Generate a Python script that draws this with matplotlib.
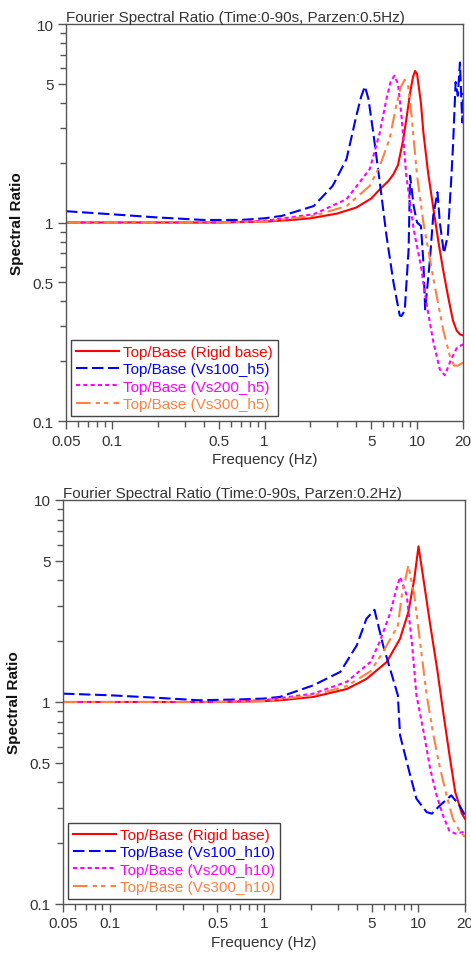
import matplotlib
matplotlib.use('Agg')
import matplotlib.pyplot as plt
from matplotlib.ticker import FixedLocator, NullFormatter

plt.rcParams['font.family'] = ['Liberation Sans', 'DejaVu Sans']

# ---- dane: panel gorny (Parzen 0.5Hz) ----
f_rig_a = [0.05, 0.5, 1.0, 1.5, 2.0, 3.0, 4.0, 5.0, 5.7, 6.5, 7.0, 7.5, 8.1, 8.5, 9.0, 9.4, 9.7,
           10.0, 10.6, 11.0, 11.8, 12.8, 13.8, 14.8, 16.0, 17.2, 18.2, 19.1, 20.0]
r_rig_a = [1.0, 1.0, 1.01, 1.03, 1.05, 1.11, 1.19, 1.32, 1.47, 1.62, 1.75, 1.95, 2.6, 3.3, 4.5, 5.4, 5.8,
           5.6, 4.0, 2.84, 1.79, 1.17, 0.8, 0.58, 0.42, 0.32, 0.285, 0.273, 0.27]

f_100_a = [0.05, 0.1, 0.2, 0.4, 0.7, 1.0, 1.3, 2.1, 2.8, 3.45, 4.0, 4.3, 4.55, 4.8, 5.16, 5.7, 6.3,
           7.0, 7.7, 7.9, 8.3, 8.8, 9.0, 9.5, 10.0, 10.6, 11.0, 11.3, 12.1, 12.76, 13.6, 14.1,
           15.0, 15.9, 16.7, 17.2, 17.9, 18.5, 19.1, 19.5, 19.8, 20.0]
r_100_a = [1.14, 1.1, 1.06, 1.03, 1.03, 1.05, 1.08, 1.21, 1.53, 2.09, 3.45, 4.3, 4.85, 4.2, 2.84, 1.59, 0.86,
           0.5, 0.34, 0.338, 0.36, 0.73, 1.72, 1.21, 1.0, 0.96, 0.63, 0.365, 0.63, 1.08, 1.42, 1.0,
           0.7, 0.86, 1.59, 2.43, 5.1, 4.35, 6.4, 4.19, 3.19, 4.5]

f_200_a = [0.05, 0.5, 1.0, 2.1, 3.45, 4.9, 5.7, 6.3, 6.7, 7.1, 7.5, 7.9, 8.5, 9.5, 10.6, 11.5, 12.8,
           14.1, 15.2, 16.7, 18.3, 20.0]
r_200_a = [1.0, 1.0, 1.02, 1.1, 1.31, 1.86, 2.84, 4.19, 5.1, 5.49, 5.0, 3.45, 1.72, 0.925, 0.604, 0.395, 0.249,
           0.182, 0.17, 0.204, 0.235, 0.243]

f_300_a = [0.05, 0.5, 1.0, 2.1, 3.45, 4.9, 5.7, 6.6, 7.3, 7.8, 8.3, 8.7, 9.2, 10.0, 11.0, 12.8, 14.8,
           16.3, 17.5, 18.5, 20.0]
r_300_a = [1.0, 1.0, 1.01, 1.08, 1.21, 1.53, 1.93, 2.63, 3.87, 4.8, 5.24, 5.0, 3.45, 1.72, 1.0, 0.52, 0.29,
           0.216, 0.19, 0.19, 0.197]

# ---- dane: panel dolny (Parzen 0.2Hz) ----
f_rig_b = [0.05, 0.5, 1.0, 1.27, 2.09, 3.44, 4.6, 6.24, 7.6, 8.6, 9.4, 10.0, 10.78, 11.9, 13.2, 14.5,
           16.0, 17.3, 19.1, 20.0]
r_rig_b = [1.0, 1.0, 1.01, 1.02, 1.06, 1.16, 1.30, 1.58, 2.06, 2.79, 4.08, 5.9, 4.03, 2.42, 1.46, 0.875,
           0.524, 0.358, 0.28, 0.264]

f_100_b = [0.05, 0.1, 0.2, 0.38, 0.7, 1.0, 1.27, 2.09, 3.12, 3.99, 4.6, 5.19, 5.9, 7.35, 7.6, 8.84,
           9.7, 11.3, 12.2, 13.8, 16.3, 18.4, 20.0]
r_100_b = [1.10, 1.08, 1.05, 1.02, 1.03, 1.04, 1.06, 1.21, 1.41, 1.91, 2.58, 2.86, 1.91, 1.08, 0.684, 0.433,
           0.332, 0.285, 0.28, 0.308, 0.345, 0.308, 0.275]

f_200_b = [0.05, 0.5, 1.0, 2.09, 3.44, 4.9, 5.6, 6.6, 7.1, 7.6, 8.4, 9.1, 9.7, 10.9, 11.9, 13.1, 14.4,
           15.8, 17.3, 20.0]
r_200_b = [1.0, 1.0, 1.02, 1.1, 1.26, 1.58, 1.98, 2.79, 3.5, 4.16, 3.37, 1.91, 1.08, 0.684, 0.468, 0.345, 0.275,
           0.231, 0.223, 0.228]

f_300_b = [0.05, 0.5, 1.0, 2.09, 3.44, 4.9, 5.9, 7.35, 7.8, 8.6, 9.4, 10.3, 11.3, 12.5, 13.8, 15.2,
           16.7, 18.4, 20.0]
r_300_b = [1.0, 1.0, 1.01, 1.08, 1.2, 1.42, 1.77, 2.39, 3.37, 4.75, 3.37, 1.91, 1.08, 0.684, 0.468, 0.345,
           0.264, 0.231, 0.214]

tytuly = ['Fourier Spectral Ratio (Time:0-90s, Parzen:0.5Hz)',
          'Fourier Spectral Ratio (Time:0-90s, Parzen:0.2Hz)']
etykiety_a = ['Top/Base (Rigid base)', 'Top/Base (Vs100_h5)', 'Top/Base (Vs200_h5)', 'Top/Base (Vs300_h5)']
etykiety_b = ['Top/Base (Rigid base)', 'Top/Base (Vs100_h10)', 'Top/Base (Vs200_h10)', 'Top/Base (Vs300_h10)']

x_major = [0.05, 0.1, 0.5, 1, 5, 10, 20]
x_major_lab = ['0.05', '0.1', '0.5', '1', '5', '10', '20']
x_minor = [0.06, 0.07, 0.08, 0.09, 0.2, 0.3, 0.4, 0.6, 0.7, 0.8, 0.9, 2, 3, 4, 6, 7, 8, 9]
y_major = [0.1, 0.5, 1, 5, 10]
y_major_lab = ['0.1', '0.5', '1', '5', '10']
y_minor = [0.2, 0.3, 0.4, 0.6, 0.7, 0.8, 0.9, 2, 3, 4, 6, 7, 8, 9]

kolory = ['#ff0000', '#0000ff', '#ff00ff', '#ff8040']
style = ['-', (0, (5.5, 2.2)), (0, (2, 1.5)), (0, (7, 2.5, 2, 2, 2, 2.5))]
tekst = '#333333'

fig = plt.figure(figsize=(4.71, 9.54), dpi=100)
ax1 = fig.add_axes([66/471, 1 - 422/954, 397/471, 397/954])
ax2 = fig.add_axes([63/471, 1 - 905/954, 402/471, 404/954])

panele = [
    (ax1, [(f_rig_a, r_rig_a), (f_100_a, r_100_a), (f_200_a, r_200_a), (f_300_a, r_300_a)], etykiety_a, tytuly[0]),
    (ax2, [(f_rig_b, r_rig_b), (f_100_b, r_100_b), (f_200_b, r_200_b), (f_300_b, r_300_b)], etykiety_b, tytuly[1]),
]

for ax, serie, etyk, tyt in panele:
    for (f, r), kol, st, lab in zip(serie, kolory, style, etyk):
        ax.plot(f, r, color=kol, linestyle=st, linewidth=1.5, label=lab)
    ax.set_xscale('log')
    ax.set_yscale('log')
    ax.set_xlim(0.05, 20)
    ax.set_ylim(0.1, 10)
    ax.xaxis.set_major_locator(FixedLocator(x_major))
    ax.set_xticklabels(x_major_lab)
    ax.xaxis.set_minor_locator(FixedLocator(x_minor))
    ax.xaxis.set_minor_formatter(NullFormatter())
    ax.yaxis.set_major_locator(FixedLocator(y_major))
    ax.set_yticklabels(y_major_lab)
    ax.yaxis.set_minor_locator(FixedLocator(y_minor))
    ax.yaxis.set_minor_formatter(NullFormatter())
    ax.tick_params(which='major', direction='out', length=6, width=1, color='#555555',
                   labelsize=11, labelcolor=tekst, pad=3)
    ax.tick_params(which='minor', direction='out', length=4, width=1, color='#555555')
    for s in ax.spines.values():
        s.set_color('#555555')
        s.set_linewidth(1)
    ax.set_xlabel('Frequency (Hz)', fontsize=11, color=tekst, labelpad=3)
    ax.set_ylabel('Spectral Ratio', fontsize=11, fontweight='bold', color='#111111', labelpad=6)
    ax.set_title(tyt, fontsize=11, color=tekst, loc='left', pad=2)
    leg = ax.legend(loc='lower left', fontsize=11, labelcolor='linecolor', handlelength=2.8,
                    fancybox=False, framealpha=1, edgecolor='#444444', borderaxespad=0.35,
                    labelspacing=0.22, handletextpad=0.3, borderpad=0.3)
    leg.get_frame().set_linewidth(1)

fig.savefig('out.png', dpi=100)
